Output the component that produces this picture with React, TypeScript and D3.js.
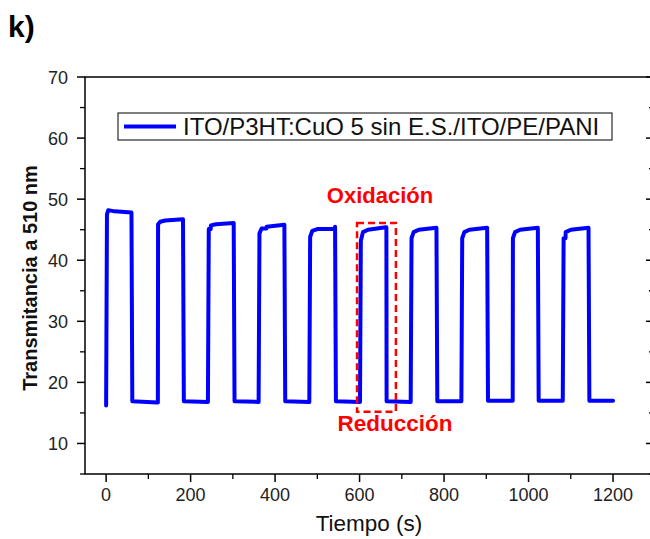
import React from "react";
import * as d3 from "d3";

const timeS: number[] = [
  0, 2, 5, 20, 60, 62, 121,
  123, 128, 140, 182, 184, 241,
  243, 248, 260, 302, 304, 361,
  363, 368, 380, 422, 424, 481,
  483, 488, 500, 542, 544, 601,
  603, 608, 620, 662, 664, 721,
  723, 728, 740, 782, 784, 841,
  843, 848, 860, 902, 904, 961,
  963, 968, 980, 1022, 1024, 1081,
  1083, 1088, 1100, 1142, 1144, 1200,
];
const transm: number[] = [
  16.2, 47.5, 48.2, 48.0, 47.8, 16.9, 16.7,
  45.9, 46.3, 46.5, 46.7, 16.9, 16.8,
  45.1, 45.7, 45.9, 46.1, 16.9, 16.8,
  44.4, 45.2, 45.5, 45.8, 16.9, 16.8,
  43.8, 44.8, 45.1, 45.5, 16.9, 16.8,
  43.2, 44.6, 45.0, 45.4, 16.9, 16.8,
  43.6, 44.6, 45.0, 45.3, 16.9, 16.9,
  43.6, 44.6, 45.0, 45.3, 17.0, 17.0,
  43.6, 44.6, 45.0, 45.3, 17.0, 17.0,
  43.6, 44.6, 45.0, 45.3, 17.0, 17.0,
];

const xTicks = [0, 200, 400, 600, 800, 1000, 1200];
const xMinor = [100, 300, 500, 700, 900, 1100];
const yTicks = [10, 20, 30, 40, 50, 60, 70];
const yMinor = [5, 15, 25, 35, 45, 55, 65];

const seriesName = "ITO/P3HT:CuO 5 sin E.S./ITO/PE/PANI";
const boxRange = { t0: 594, t1: 686, v0: 15.2, v1: 46.1 };

export default function App() {
  const W = 650, H = 539;
  const left = 85, right = 654, top = 77, bottom = 474;
  const x = d3.scaleLinear().domain([-50, 1297]).range([left, right]);
  const y = d3.scaleLinear().domain([5, 70]).range([bottom, top]);

  const pts: [number, number][] = timeS.map((t, i) => [t, transm[i]]);
  const full: [number, number][] = [];
  pts.forEach((p, i) => {
    if (i > 0 && i % 7 === 0) {
      full.push([p[0] - 0.5, pts[i - 1][1]]);
    }
    full.push(p);
  });

  const line = d3.line<[number, number]>().x(d => x(d[0])).y(d => y(d[1]));

  const font = "'Liberation Sans', Arial, sans-serif";
  return (
    <svg width={W} height={H} style={{ position: "absolute", left: 0, top: 0 }} fontFamily={font}>
      <rect x={0} y={0} width={W} height={H} fill="white" />
      <text x={8} y={37} fontSize={30} fontWeight="bold" fill="#000">k)</text>

      {/* frame */}
      <rect x={left} y={top} width={right - left} height={bottom - top} fill="none" stroke="#000" strokeWidth={1.5} />

      {/* y ticks */}
      {yTicks.map(v => (
        <g key={"y" + v}>
          <line x1={left - 8} x2={left} y1={y(v)} y2={y(v)} stroke="#000" strokeWidth={1.5} />
          <line x1={right - 8} x2={right} y1={y(v)} y2={y(v)} stroke="#000" strokeWidth={1.5} />
          <text x={left - 17} y={y(v) + 6.5} fontSize={18} textAnchor="end" fill="#222">{v}</text>
        </g>
      ))}
      {yMinor.map(v => (
        <g key={"ym" + v}>
          <line x1={left - 5} x2={left} y1={y(v)} y2={y(v)} stroke="#000" strokeWidth={1.3} />
          <line x1={right - 5} x2={right} y1={y(v)} y2={y(v)} stroke="#000" strokeWidth={1.3} />
        </g>
      ))}
      {/* x ticks */}
      {xTicks.map(v => (
        <g key={"x" + v}>
          <line x1={x(v)} x2={x(v)} y1={bottom} y2={bottom + 8} stroke="#000" strokeWidth={1.5} />
          <text x={x(v)} y={bottom + 27} fontSize={18} textAnchor="middle" fill="#222">{v}</text>
        </g>
      ))}
      {xMinor.map(v => (
        <line key={"xm" + v} x1={x(v)} x2={x(v)} y1={bottom} y2={bottom + 5} stroke="#000" strokeWidth={1.3} />
      ))}

      <text x={369} y={531} fontSize={22.5} textAnchor="middle" fill="#111">Tiempo (s)</text>
      <text transform={`translate(37,278) rotate(-90)`} fontSize={20} fontWeight="bold" textAnchor="middle" fill="#111">Transmitancia a 510 nm</text>

      {/* legend */}
      <rect x={118} y={113} width={494} height={27} fill="white" stroke="#000" strokeWidth={1} />
      <line x1={124} x2={176} y1={126.5} y2={126.5} stroke="#0000ff" strokeWidth={4} />
      <text x={183} y={134.5} fontSize={24} fill="#111">{seriesName}</text>

      {/* series */}
      <path d={line(full) || ""} fill="none" stroke="#0000ff" strokeWidth={4} strokeLinejoin="round" strokeLinecap="round" />

      {/* dashed box */}
      <rect x={x(boxRange.t0)} y={y(boxRange.v1)} width={x(boxRange.t1) - x(boxRange.t0)} height={y(boxRange.v0) - y(boxRange.v1)}
        fill="none" stroke="#ff0000" strokeWidth={2.5} strokeDasharray="7,4" />
      <text x={380} y={203} fontSize={22} fontWeight="bold" fill="#ff0000" textAnchor="middle">Oxidación</text>
      <text x={395} y={431} fontSize={22.5} fontWeight="bold" fill="#ff0000" textAnchor="middle">Reducción</text>
    </svg>
  );
}
